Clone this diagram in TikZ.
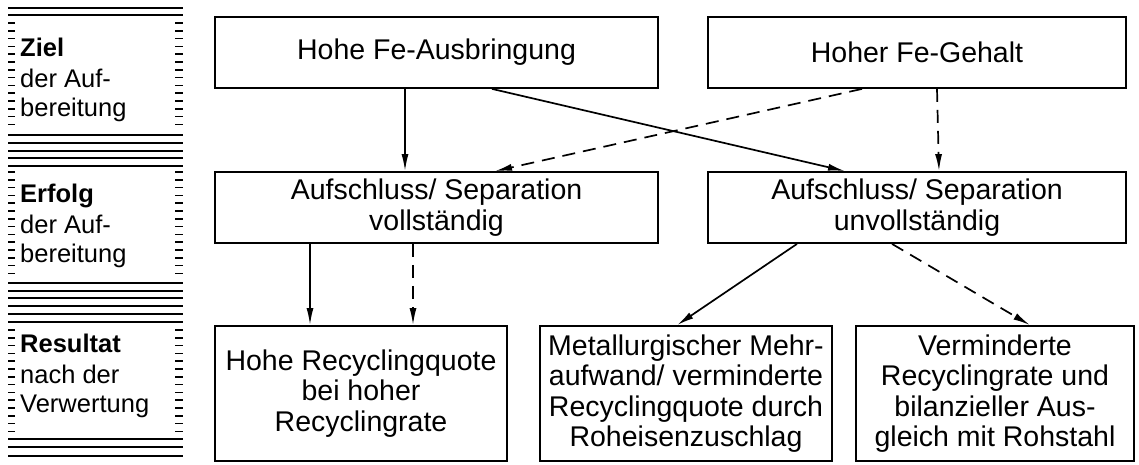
\documentclass[tikz,border=0pt]{standalone}
\usepackage{fontspec}
\setmainfont{Liberation Sans}
\usetikzlibrary{arrows.meta}

\begin{document}
\begin{tikzpicture}[x=1pt,y=-1pt,>={Latex[length=17pt,width=7pt]},
  box/.style={draw,line width=1.8pt,align=center,inner sep=0pt,font=\fontsize{28.5}{30.5}\selectfont},
  arr/.style={->,line width=1.7pt},
  darr/.style={arr,dash pattern=on 13pt off 8pt},
  stripe/.style={line width=1.6pt},
  side/.style={align=left,anchor=west,inner sep=0pt,font=\fontsize{25.5}{29}\selectfont}]
\useasboundingbox (0,0) rectangle (1139,464);
% left column: striped frame
\foreach \y in {8,15,135,143,151,158,166,283,291,298,306,314,322,439,447,456}
  \draw[stripe] (8,\y) -- (183,\y);
\foreach \top in {23,172,330}{
  \foreach \k in {0,...,13}{
    \draw[stripe] (8,{\top+\k*7.8}) -- (15,{\top+\k*7.8});
    \draw[stripe] (175,{\top+\k*7.8}) -- (183,{\top+\k*7.8});}}
\node[side] (ziel) at (20,80) {\textbf{Ziel}\\[2pt]der Auf-\\bereitung};
\node[side] (erfolg) at (20,226) {\textbf{Erfolg}\\[2pt]der Auf-\\bereitung};
\node[side] (result) at (20,376) {\textbf{Resultat}\\[2pt]nach der\\Verwertung};
% boxes
\node[box,minimum width=443pt,minimum height=71pt] (ausbr) at (436.5,52.5) {Hohe Fe-Ausbringung};
\node[box,minimum width=418pt,minimum height=71pt] (gehalt) at (917,52.5) {Hoher Fe-Gehalt};
\node[box,minimum width=443pt,minimum height=71pt] (vollst) at (436.5,207.5) {Aufschluss/ Separation\\vollständig};
\node[box,minimum width=418pt,minimum height=71pt] (unvoll) at (917,207.5) {Aufschluss/ Separation\\unvollständig};
\node[box,minimum width=292pt,minimum height=135pt] (quote) at (361,393.5) {Hohe Recyclingquote\\bei hoher\\Recyclingrate};
\node[box,minimum width=292pt,minimum height=135pt] (mehr) at (686,393.5) {Metallurgischer Mehr-\\aufwand/ verminderte\\Recyclingquote durch\\Roheisenzuschlag};
\node[box,minimum width=278pt,minimum height=135pt] (rate) at (995,393.5) {Verminderte\\Recyclingrate und\\bilanzieller Aus-\\gleich mit Rohstahl};
% arrows
\draw[arr] ([xshift=-31.5pt]ausbr.south) -- ([xshift=-31.5pt]vollst.north);
\draw[arr] ([xshift=55.5pt]ausbr.south) -- ([xshift=-72pt]unvoll.north);
\draw[darr] ([xshift=-55pt]gehalt.south) -- ([xshift=58.5pt]vollst.north);
\draw[darr] ([xshift=20pt]gehalt.south) -- ([xshift=22pt]unvoll.north);
\draw[arr] ([xshift=-126.5pt]vollst.south) -- ([xshift=-51pt]quote.north);
\draw[darr] ([xshift=-23.5pt]vollst.south) -- ([xshift=52pt]quote.north);
\draw[arr] ([xshift=-120pt]unvoll.south) -- ([xshift=-9pt]mehr.north);
\draw[darr] ([xshift=-25pt]unvoll.south) -- ([xshift=35pt]rate.north);
\end{tikzpicture}
\end{document}
